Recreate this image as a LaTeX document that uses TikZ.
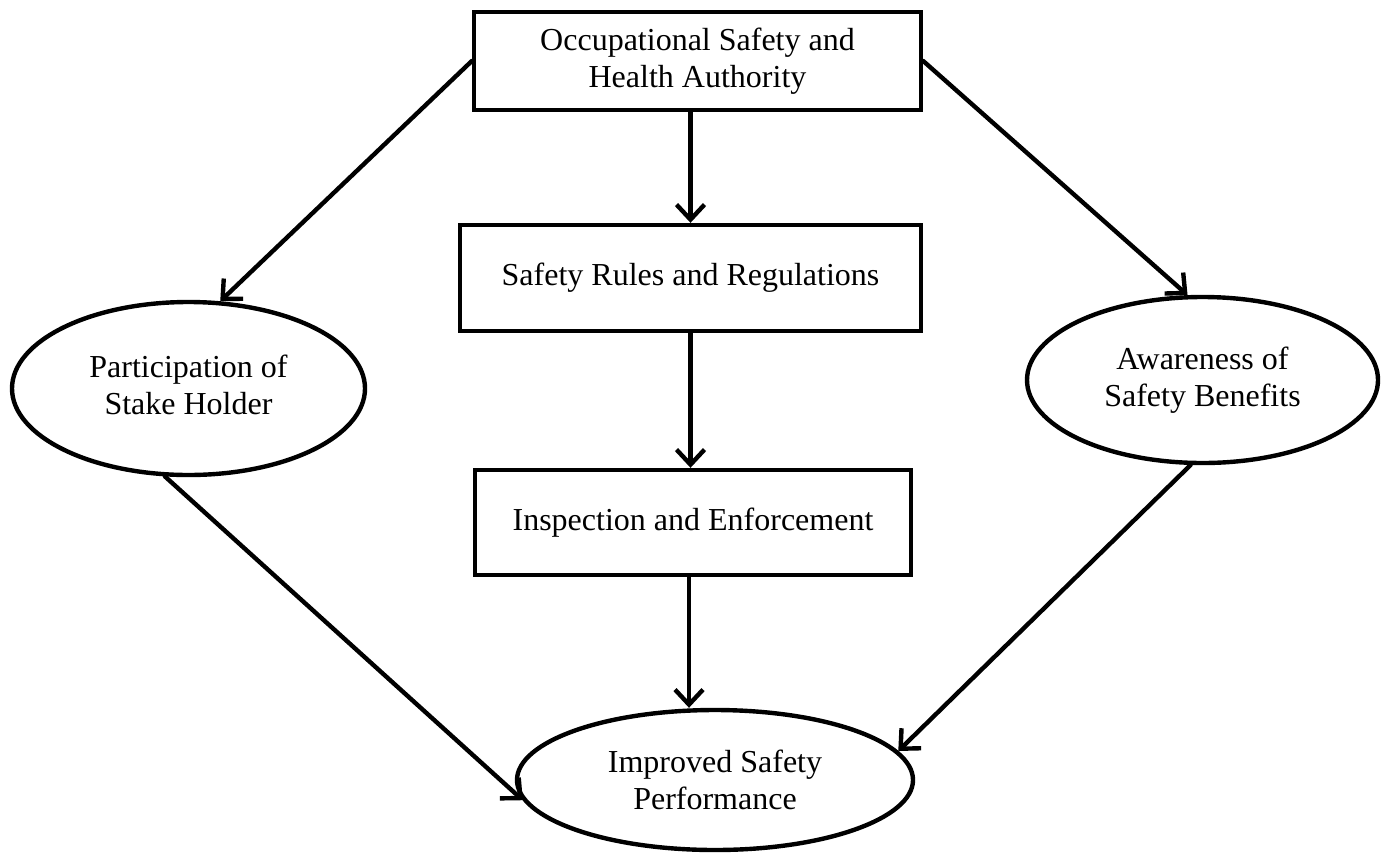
\documentclass[tikz,border=0pt]{standalone}
\usepackage{fontspec}
\setmainfont{Liberation Serif}
\usetikzlibrary{shapes.geometric,arrows.meta}
\begin{document}
\begin{tikzpicture}[x=1pt,y=-1pt,
  lw/.style={line width=4.4pt},
  boxnode/.style={draw,lw,rectangle,inner sep=0pt,align=center,font=\fontsize{32}{37}\selectfont},
  ellnode/.style={draw,lw,ellipse,inner sep=0pt,align=center,font=\fontsize{32}{37}\selectfont},
  conn/.style={lw,line cap=round,-{Straight Barb[length=15pt,width=28pt]}}]
\useasboundingbox (0,0) rectangle (1388,854);
\node[boxnode,minimum width=447pt,minimum height=98pt] (osha) at (697.5,61) {Occupational Safety and\\Health Authority};
\node[boxnode,minimum width=461pt,minimum height=106pt] (srr) at (690.5,278) {\raisebox{5pt}{Safety Rules and Regulations}};
\node[boxnode,minimum width=436pt,minimum height=105pt] (ie) at (693,522.5) {\raisebox{6pt}{Inspection and Enforcement}};
\node[ellnode,minimum width=353pt,minimum height=173pt] (psh) at (188.5,388.5) {\raisebox{-4pt}{\begin{tabular}{@{}c@{}}Participation of\\Stake Holder\end{tabular}}};
\node[ellnode,minimum width=351pt,minimum height=166pt] (asb) at (1202.5,380) {Awareness of\\Safety Benefits};
\node[ellnode,minimum width=396pt,minimum height=140pt] (isp) at (715,780) {Improved Safety\\Performance};
\draw[conn] (osha.south -| srr.north) -- (srr.north);
\draw[conn] (srr.south) -- (ie.north -| srr.south);
\draw[conn] (ie.south -| isp.north) ++(-26pt,0) coordinate (iesouth) -- (iesouth |- isp.north);
\draw[conn] (osha.west) -- (psh.70);
\draw[conn] (osha.east) -- (asb.100);
\draw[conn] (psh.255) -- (isp.186);
\draw[conn] (asb.262) -- (isp.9);
\end{tikzpicture}
\end{document}
